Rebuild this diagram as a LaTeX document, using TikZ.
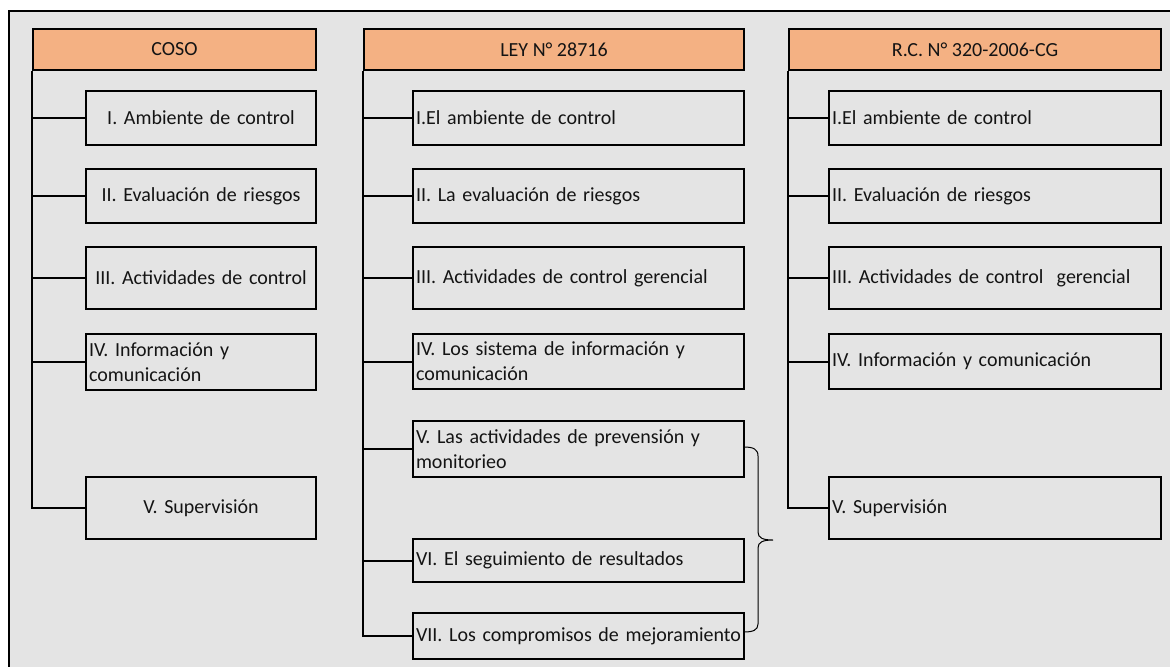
\documentclass[tikz,border=0pt]{standalone}
\usepackage{fontspec}
\setmainfont{Carlito}
\newcommand\fsz{\fontsize{20}{25}\selectfont}
\definecolor{hdrfill}{RGB}{244,177,131}
\definecolor{bgfill}{RGB}{228,228,228}
\definecolor{txt}{RGB}{20,20,20}
\begin{document}
\begin{tikzpicture}[x=1pt,y=-1pt,
  hdr/.style={draw, line width=2pt, fill=hdrfill, minimum height=41pt, anchor=north west, inner sep=0pt, font=\fsz, text=txt},
  box/.style={draw, line width=2pt, anchor=north west, inner xsep=3pt, inner ysep=0pt, font=\fsz, text=txt},
  cbox/.style={box, align=center, text width=224pt},
  lbox/.style={box, align=left},
  conn/.style={line width=2pt}
]
\useasboundingbox (0,0) rectangle (1170,667);
\fill[bgfill] (9,11) rectangle (1170,667);
\draw[line width=2.5pt] (1170,11) -- (9,11) -- (9,667);

% COSO column
\node[hdr, minimum width=283pt] (h1) at (32,28) {COSO};
\node[cbox, minimum height=54pt] (c1) at (85,90) {I. Ambiente de control};
\node[cbox, minimum height=54pt] (c2) at (85,168) {II. Evaluación de riesgos};
\node[cbox, minimum height=62pt] (c3) at (85,246) {III. Actividades de control};
\node[lbox, text width=224pt, minimum height=56pt] (c4) at (85,333) {IV. Información y\\comunicación};
\node[cbox, minimum height=62pt] (c5) at (85,476) {V. Supervisión};

% LEY column
\node[hdr, minimum width=380pt] (h2) at (363,28) {LEY N° 28716};
\node[lbox, text width=325pt, minimum height=54pt] (m1) at (412,90) {I.El ambiente de control};
\node[lbox, text width=325pt, minimum height=54pt] (m2) at (412,168) {II. La evaluación de riesgos};
\node[lbox, text width=325pt, minimum height=62pt] (m3) at (412,246) {III. Actividades de control gerencial};
\node[lbox, text width=325pt, minimum height=55pt] (m4) at (412,333) {IV. Los sistema de información y\\comunicación};
\node[lbox, text width=325pt, minimum height=56pt] (m5) at (412,420) {V. Las actividades de prevensión y\\monitorieo};
\node[lbox, text width=325pt, minimum height=43pt] (m6) at (412,538) {VI. El seguimiento de resultados};
\node[lbox, text width=325pt, minimum height=46pt] (m7) at (412,612) {VII. Los compromisos de mejoramiento};

% R.C. column
\node[hdr, minimum width=372pt] (h3) at (788,28) {R.C. N° 320-2006-CG};
\node[lbox, text width=326pt, minimum height=54pt] (r1) at (828,90) {I.El ambiente de control};
\node[lbox, text width=326pt, minimum height=54pt] (r2) at (828,168) {II. Evaluación de riesgos};
\node[lbox, text width=326pt, minimum height=62pt] (r3) at (828,246) {III. Actividades de control\ \ gerencial};
\node[lbox, text width=326pt, minimum height=55pt] (r4) at (828,333) {IV. Información y comunicación};
\node[lbox, text width=326pt, minimum height=62pt] (r5) at (828,476) {V. Supervisión};

% connectors
\foreach \h/\last/\list in {h1/c5/{c1,c2,c3,c4,c5}, h2/m7/{m1,m2,m3,m4,m5,m6,m7}, h3/r5/{r1,r2,r3,r4,r5}}{
  \draw[conn] (\h.south west) |- (\last.west);
  \foreach \b in \list { \draw[conn] (\h.south west |- \b.west) -- (\b.west); }
}

% brace
\coordinate (bt) at (744,447);
\coordinate (bb) at (744,632);
\coordinate (tip) at (773,540);
\draw[line width=1pt] (bt) .. controls (753,447) and (758,449) .. (758,456) -- (758,532)
  .. controls (758,538) and (763,540) .. (tip)
  .. controls (763,540) and (758,542) .. (758,548) -- (758,624)
  .. controls (758,630) and (753,632) .. (bb);
\end{tikzpicture}
\end{document}
